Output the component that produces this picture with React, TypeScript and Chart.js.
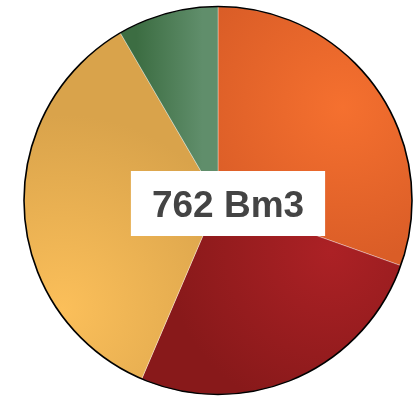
import React, { useEffect, useRef } from 'react';
import { Chart, registerables } from 'chart.js';

Chart.register(...registerables);

// Slice values in Bm3, drawn clockwise from 12 o'clock
const categories = ['A', 'B', 'C', 'D'];
const values = [232, 198, 268, 64];
const unit = 'Bm3';

// Each slice is shaded from a light core to a darker rim
const lightColors = ['#F5702F', '#AC2125', '#FBBF5A', '#608E6B'];
const darkColors = ['#DA5D27', '#88191A', '#D9A34B', '#3C6D42'];

// Highlight placement per slice, as fractions of the pie radius from its centre.
// "linear" slices fade horizontally from x0 (dark) to x1 (light).
const glow: any[] = [
  { kind: 'radial', x: 0.64, y: -0.48, reach: 0.8 },
  { kind: 'radial', x: 0.58, y: 0.26, reach: 0.85 },
  { kind: 'radial', x: -0.8, y: 0.56, reach: 1.0 },
  { kind: 'linear', x0: -0.42, x1: -0.08 },
];

const total = values.reduce((s, v) => s + v, 0);

const outlineAndTotal = {
  id: 'outlineAndTotal',
  afterDatasetsDraw(chart: any) {
    const meta = chart.getDatasetMeta(0);
    const arc = meta.data[0];
    if (!arc) return;
    const { x, y, outerRadius } = arc.getProps(['x', 'y', 'outerRadius'], true);
    const c = chart.ctx;
    c.save();
    c.beginPath();
    c.arc(x, y, outerRadius, 0, Math.PI * 2);
    c.lineWidth = 1.6;
    c.strokeStyle = '#000';
    c.stroke();

    const text = `${total} ${unit}`;
    c.font = 'bold 37px "Liberation Sans", Arial, Helvetica, sans-serif';
    const tw = c.measureText(text).width;
    const bw = tw + 42;
    const bh = 65;
    const bx = x + 10 - bw / 2;
    const by = y + 3 - bh / 2;
    c.fillStyle = '#ffffff';
    c.fillRect(bx, by, bw, bh);
    c.fillStyle = '#444444';
    c.textAlign = 'center';
    c.textBaseline = 'alphabetic';
    c.fillText(text, x + 10, by + 46);
    c.restore();
  },
};

export default function App() {
  const ref = useRef<HTMLCanvasElement | null>(null);

  useEffect(() => {
    const canvas = ref.current;
    if (!canvas) return;
    const chart = new Chart(canvas, {
      type: 'pie',
      data: {
        labels: categories,
        datasets: [
          {
            data: values,
            backgroundColor: (ctx: any) => {
              const i = ctx.dataIndex ?? 0;
              const area = ctx.chart.chartArea;
              if (!area) return lightColors[i];
              const cx = (area.left + area.right) / 2;
              const cy = (area.top + area.bottom) / 2;
              const r = Math.min(area.width, area.height) / 2;
              const g = glow[i];
              let grad;
              if (g.kind === 'linear') {
                grad = ctx.chart.ctx.createLinearGradient(cx + g.x0 * r, 0, cx + g.x1 * r, 0);
                grad.addColorStop(0, darkColors[i]);
                grad.addColorStop(1, lightColors[i]);
              } else {
                const gx = cx + g.x * r;
                const gy = cy + g.y * r;
                grad = ctx.chart.ctx.createRadialGradient(gx, gy, 0, gx, gy, g.reach * r);
                grad.addColorStop(0, lightColors[i]);
                grad.addColorStop(1, darkColors[i]);
              }
              return grad;
            },
            borderColor: 'rgba(255,255,255,0.35)',
            borderWidth: 1,
          },
        ],
      },
      options: {
        responsive: false,
        animation: false,
        layout: { padding: { left: 23, right: 1, top: 6, bottom: 1 } },
        plugins: {
          legend: { display: false },
          tooltip: { enabled: false },
        },
      },
      plugins: [outlineAndTotal],
    });
    return () => chart.destroy();
  }, []);

  return (
    <div style={{ position: 'fixed', left: 0, top: 0, width: 414, height: 396, background: '#fff' }}>
      <canvas ref={ref} width={414} height={396} style={{ display: 'block' }} />
    </div>
  );
}
